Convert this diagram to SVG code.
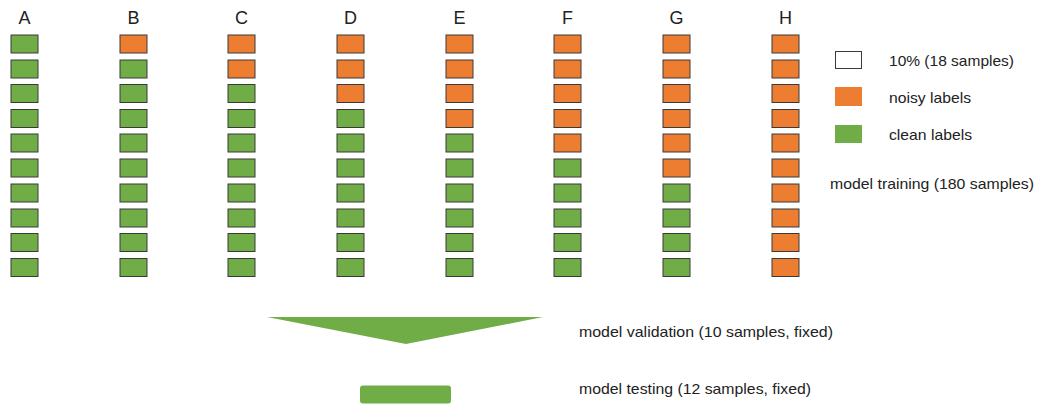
<svg xmlns="http://www.w3.org/2000/svg" width="1039" height="407" viewBox="0 0 1039 407">
  <style>
    .lbl { font-family: "Liberation Sans", Arial, sans-serif; fill: #222; }
    .col { font-size: 18px; text-anchor: middle; }
    .txt { font-size: 15px; }
    .clean { fill: #70AD47; }
    .noisy { fill: #ED7D31; }
    .cell { stroke: #3a3a3a; stroke-width: 1; }
  </style>
  <defs>
    <rect id="cell" width="27" height="18"/>
  </defs>
  <rect width="1039" height="407" fill="#fff"/>

  <!-- column A: 0 noisy -->
  <g id="col-A">
    <text class="lbl col" x="24.5" y="24">A</text>
    <use href="#cell" x="11" y="35" class="cell clean"/>
    <use href="#cell" x="11" y="60" class="cell clean"/>
    <use href="#cell" x="11" y="84.5" class="cell clean"/>
    <use href="#cell" x="11" y="109.5" class="cell clean"/>
    <use href="#cell" x="11" y="134" class="cell clean"/>
    <use href="#cell" x="11" y="159" class="cell clean"/>
    <use href="#cell" x="11" y="184" class="cell clean"/>
    <use href="#cell" x="11" y="209" class="cell clean"/>
    <use href="#cell" x="11" y="233.5" class="cell clean"/>
    <use href="#cell" x="11" y="258.5" class="cell clean"/>
  </g>
  <!-- column B: 1 noisy -->
  <g id="col-B">
    <text class="lbl col" x="133.5" y="24">B</text>
    <use href="#cell" x="120" y="35" class="cell noisy"/>
    <use href="#cell" x="120" y="60" class="cell clean"/>
    <use href="#cell" x="120" y="84.5" class="cell clean"/>
    <use href="#cell" x="120" y="109.5" class="cell clean"/>
    <use href="#cell" x="120" y="134" class="cell clean"/>
    <use href="#cell" x="120" y="159" class="cell clean"/>
    <use href="#cell" x="120" y="184" class="cell clean"/>
    <use href="#cell" x="120" y="209" class="cell clean"/>
    <use href="#cell" x="120" y="233.5" class="cell clean"/>
    <use href="#cell" x="120" y="258.5" class="cell clean"/>
  </g>
  <!-- column C: 2 noisy -->
  <g id="col-C">
    <text class="lbl col" x="241.5" y="24">C</text>
    <use href="#cell" x="228" y="35" class="cell noisy"/>
    <use href="#cell" x="228" y="60" class="cell noisy"/>
    <use href="#cell" x="228" y="84.5" class="cell clean"/>
    <use href="#cell" x="228" y="109.5" class="cell clean"/>
    <use href="#cell" x="228" y="134" class="cell clean"/>
    <use href="#cell" x="228" y="159" class="cell clean"/>
    <use href="#cell" x="228" y="184" class="cell clean"/>
    <use href="#cell" x="228" y="209" class="cell clean"/>
    <use href="#cell" x="228" y="233.5" class="cell clean"/>
    <use href="#cell" x="228" y="258.5" class="cell clean"/>
  </g>
  <!-- column D: 3 noisy -->
  <g id="col-D">
    <text class="lbl col" x="350.5" y="24">D</text>
    <use href="#cell" x="337" y="35" class="cell noisy"/>
    <use href="#cell" x="337" y="60" class="cell noisy"/>
    <use href="#cell" x="337" y="84.5" class="cell noisy"/>
    <use href="#cell" x="337" y="109.5" class="cell clean"/>
    <use href="#cell" x="337" y="134" class="cell clean"/>
    <use href="#cell" x="337" y="159" class="cell clean"/>
    <use href="#cell" x="337" y="184" class="cell clean"/>
    <use href="#cell" x="337" y="209" class="cell clean"/>
    <use href="#cell" x="337" y="233.5" class="cell clean"/>
    <use href="#cell" x="337" y="258.5" class="cell clean"/>
  </g>
  <!-- column E: 4 noisy -->
  <g id="col-E">
    <text class="lbl col" x="459.5" y="24">E</text>
    <use href="#cell" x="446" y="35" class="cell noisy"/>
    <use href="#cell" x="446" y="60" class="cell noisy"/>
    <use href="#cell" x="446" y="84.5" class="cell noisy"/>
    <use href="#cell" x="446" y="109.5" class="cell noisy"/>
    <use href="#cell" x="446" y="134" class="cell clean"/>
    <use href="#cell" x="446" y="159" class="cell clean"/>
    <use href="#cell" x="446" y="184" class="cell clean"/>
    <use href="#cell" x="446" y="209" class="cell clean"/>
    <use href="#cell" x="446" y="233.5" class="cell clean"/>
    <use href="#cell" x="446" y="258.5" class="cell clean"/>
  </g>
  <!-- column F: 5 noisy -->
  <g id="col-F">
    <text class="lbl col" x="567.5" y="24">F</text>
    <use href="#cell" x="554" y="35" class="cell noisy"/>
    <use href="#cell" x="554" y="60" class="cell noisy"/>
    <use href="#cell" x="554" y="84.5" class="cell noisy"/>
    <use href="#cell" x="554" y="109.5" class="cell noisy"/>
    <use href="#cell" x="554" y="134" class="cell noisy"/>
    <use href="#cell" x="554" y="159" class="cell clean"/>
    <use href="#cell" x="554" y="184" class="cell clean"/>
    <use href="#cell" x="554" y="209" class="cell clean"/>
    <use href="#cell" x="554" y="233.5" class="cell clean"/>
    <use href="#cell" x="554" y="258.5" class="cell clean"/>
  </g>
  <!-- column G: 6 noisy -->
  <g id="col-G">
    <text class="lbl col" x="676.5" y="24">G</text>
    <use href="#cell" x="663" y="35" class="cell noisy"/>
    <use href="#cell" x="663" y="60" class="cell noisy"/>
    <use href="#cell" x="663" y="84.5" class="cell noisy"/>
    <use href="#cell" x="663" y="109.5" class="cell noisy"/>
    <use href="#cell" x="663" y="134" class="cell noisy"/>
    <use href="#cell" x="663" y="159" class="cell noisy"/>
    <use href="#cell" x="663" y="184" class="cell clean"/>
    <use href="#cell" x="663" y="209" class="cell clean"/>
    <use href="#cell" x="663" y="233.5" class="cell clean"/>
    <use href="#cell" x="663" y="258.5" class="cell clean"/>
  </g>
  <!-- column H: all noisy -->
  <g id="col-H">
    <text class="lbl col" x="785.5" y="24">H</text>
    <use href="#cell" x="772" y="35" class="cell noisy"/>
    <use href="#cell" x="772" y="60" class="cell noisy"/>
    <use href="#cell" x="772" y="84.5" class="cell noisy"/>
    <use href="#cell" x="772" y="109.5" class="cell noisy"/>
    <use href="#cell" x="772" y="134" class="cell noisy"/>
    <use href="#cell" x="772" y="159" class="cell noisy"/>
    <use href="#cell" x="772" y="184" class="cell noisy"/>
    <use href="#cell" x="772" y="209" class="cell noisy"/>
    <use href="#cell" x="772" y="233.5" class="cell noisy"/>
    <use href="#cell" x="772" y="258.5" class="cell noisy"/>
  </g>

  <!-- legend -->
  <g id="legend">
    <rect x="835.5" y="51.5" width="26" height="17" fill="#fff" stroke="#3a3a3a" stroke-width="1"/>
    <text class="lbl txt" x="889" y="66" textLength="125" lengthAdjust="spacingAndGlyphs">10% (18 samples)</text>
    <rect x="835" y="87" width="27" height="19" class="noisy"/>
    <text class="lbl txt" x="889" y="102.5" textLength="82" lengthAdjust="spacingAndGlyphs">noisy labels</text>
    <rect x="835" y="125" width="27" height="18" class="clean"/>
    <text class="lbl txt" x="889" y="139.5" textLength="83" lengthAdjust="spacingAndGlyphs">clean labels</text>
    <text class="lbl txt" x="830" y="189" textLength="204" lengthAdjust="spacingAndGlyphs">model training (180 samples)</text>
  </g>

  <!-- validation funnel -->
  <g id="validation">
    <polygon points="267,317 543,317 406,344" class="clean"/>
    <text class="lbl txt" x="579" y="337" textLength="254" lengthAdjust="spacingAndGlyphs">model validation (10 samples, fixed)</text>
  </g>

  <!-- test set -->
  <g id="testing">
    <rect x="360" y="385.5" width="91" height="18" rx="3" class="clean"/>
    <text class="lbl txt" x="579" y="394" textLength="232" lengthAdjust="spacingAndGlyphs">model testing (12 samples, fixed)</text>
  </g>

  <g id="connectors"/>
</svg>
